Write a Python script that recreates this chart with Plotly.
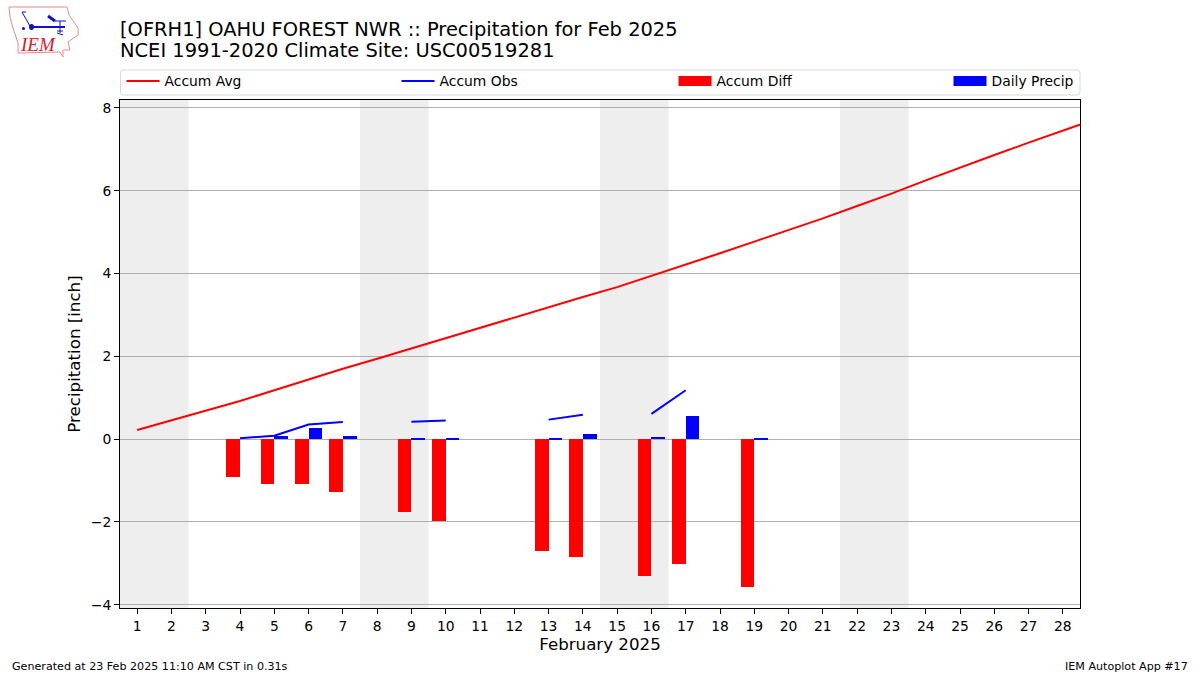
import plotly.graph_objects as go

DAYS = list(range(1, 30))
ACCUM_AVG = [0.22, 0.45, 0.68, 0.92, 1.18, 1.44, 1.70, 1.94, 2.19, 2.44,
             2.69, 2.94, 3.19, 3.43, 3.67, 3.94, 4.22, 4.49, 4.77, 5.05,
             5.33, 5.63, 5.93, 6.25, 6.56, 6.86, 7.16, 7.45, 7.74]

# obs line is broken on the days with missing data
OBS_DAYS = [4, 5, 6, 7, 8, 9, 10, 11, 13, 14, 15, 16, 17]
ACCUM_OBS = [0.02, 0.08, 0.35, 0.41, None, 0.42, 0.45, None, 0.47, 0.59, None, 0.61, 1.18]

DIFF_DAYS = [4, 5, 6, 7, 9, 10, 13, 14, 16, 17, 19]
ACCUM_DIFF = [-0.92, -1.09, -1.09, -1.28, -1.76, -1.98, -2.71, -2.85, -3.31, -3.02, -3.58]

PRECIP_DAYS = [5, 6, 7, 9, 10, 13, 14, 16, 17, 19]
DAILY_PRECIP = [0.08, 0.27, 0.08, 0.02, 0.02, 0.02, 0.12, 0.05, 0.56, 0.02]

WEEKEND_SPANS = [(0.5, 2.5), (7.5, 9.5), (14.5, 16.5), (21.5, 23.5)]
X_TICKS = list(range(1, 29))
Y_TICKS = [-4, -2, 0, 2, 4, 6, 8]
Y_LABELS = ["\u22124", "\u22122", "0", "2", "4", "6", "8"]

FONT = "DejaVu Sans"
W, H = 1200, 675
LEFT, RIGHT, TOP, BOTTOM = 120, 1080, 100, 608


# pixel position on the page to paper coords (paper is relative to the plot area)
def px(x):
    return (x - LEFT) / (RIGHT - LEFT)


def py(y):
    return 1 - (y - TOP) / (BOTTOM - TOP)


def paper_path(points, close=True):
    path = "M" + " L".join(f"{px(x):.4f},{py(y):.4f}" for x, y in points)
    return path + " Z" if close else path


fig = go.Figure()

fig.add_trace(go.Scatter(x=DAYS, y=ACCUM_AVG, mode="lines", name="Accum Avg", legend="legend",
                         line=dict(color="#ff0000", width=2)))
fig.add_trace(go.Scatter(x=OBS_DAYS, y=ACCUM_OBS, mode="lines", name="Accum Obs", legend="legend2",
                         line=dict(color="#0000ff", width=2), connectgaps=False))
fig.add_trace(go.Bar(x=DIFF_DAYS, y=ACCUM_DIFF, name="Accum Diff", width=0.4, offset=-0.4,
                     marker=dict(color="#ff0000", line=dict(width=0)), showlegend=False))
fig.add_trace(go.Bar(x=PRECIP_DAYS, y=DAILY_PRECIP, name="Daily Precip", width=0.4, offset=0,
                     marker=dict(color="#0000ff", line=dict(width=0)), showlegend=False))
# wide legend swatches like the original, bar swatches in plotly are small squares
fig.add_trace(go.Scatter(x=[None], y=[None], mode="lines", name="Accum Diff", legend="legend3",
                         line=dict(color="#ff0000", width=10)))
fig.add_trace(go.Scatter(x=[None], y=[None], mode="lines", name="Daily Precip", legend="legend4",
                         line=dict(color="#0000ff", width=10)))

for x0, x1 in WEEKEND_SPANS:
    fig.add_shape(type="rect", xref="x", yref="paper", x0=x0, x1=x1, y0=0, y1=1,
                  fillcolor="#eeeeee", line_width=0, layer="below")

# legend frame with rounded corners
r = 3
frame = (f"M{px(120.5 + r):.4f},{py(70):.4f} L{px(1080 - r):.4f},{py(70):.4f} "
         f"Q{px(1080):.4f},{py(70):.4f} {px(1080):.4f},{py(70 + r):.4f} "
         f"L{px(1080):.4f},{py(95 - r):.4f} Q{px(1080):.4f},{py(95):.4f} {px(1080 - r):.4f},{py(95):.4f} "
         f"L{px(120.5 + r):.4f},{py(95):.4f} Q{px(120.5):.4f},{py(95):.4f} {px(120.5):.4f},{py(95 - r):.4f} "
         f"L{px(120.5):.4f},{py(70 + r):.4f} Q{px(120.5):.4f},{py(70):.4f} {px(120.5 + r):.4f},{py(70):.4f} Z")
fig.add_shape(type="path", xref="paper", yref="paper", path=frame,
              line=dict(color="#d8d8d8", width=1), layer="below")

# logo
OUTLINE = [(9, 7), (67, 7), (69, 15), (78, 28), (78, 35), (68, 42), (70, 50), (63, 50),
           (63, 57), (60, 52), (18, 53), (18, 43), (13, 28), (10, 17)]
fig.add_shape(type="path", xref="paper", yref="paper", path=paper_path(OUTLINE),
              line=dict(color="#e58a8a", width=1), layer="above")
LOGO_STROKES = [
    ([(30, 27), (65, 27)], 2),
    ([(55, 21), (66, 21)], 1),
    ([(60, 21), (60, 33)], 1),
    ([(48, 16), (55, 21)], 3),
    ([(22, 12), (30, 26)], 1),
    ([(22, 12), (26, 12)], 1),
    ([(57, 31), (63, 31)], 1),
    ([(57, 33), (63, 35)], 1),
]
for pts, lw in LOGO_STROKES:
    fig.add_shape(type="path", xref="paper", yref="paper", path=paper_path(pts, close=False),
                  line=dict(color="#1010d0", width=lw))
fig.add_shape(type="circle", xref="paper", yref="paper", x0=px(29), x1=px(34), y0=py(30), y1=py(24),
              fillcolor="#1010d0", line_width=0)
fig.add_shape(type="circle", xref="paper", yref="paper", x0=px(22), x1=px(25), y0=py(30), y1=py(27),
              fillcolor="#1010d0", line_width=0)

annos = [
    dict(text="NCEI 1991-2020 Climate Site: USC00519281", x=px(120), y=py(50.5),
         xanchor="left", yanchor="middle", font=dict(family=FONT, size=19.44, color="black")),
    dict(text="<i>IEM</i>", x=px(20), y=py(45), xanchor="left", yanchor="middle",
         font=dict(family="Liberation Serif", size=19, color="#d62030")),
    dict(text="Generated at 23 Feb 2025 11:10 AM CST in 0.31s", x=px(12), y=py(666),
         xanchor="left", yanchor="middle", font=dict(family=FONT, size=11.11, color="black")),
    dict(text="IEM Autoplot App #17", x=px(1188), y=py(666),
         xanchor="right", yanchor="middle", font=dict(family=FONT, size=11.11, color="black")),
]
for a in annos:
    fig.add_annotation(xref="paper", yref="paper", showarrow=False, borderpad=0, borderwidth=0, **a)


# one legend per entry, a single horizontal legend cannot spread over the full width
def legend_at(x):
    return dict(orientation="h", x=px(x), xanchor="left", y=py(81.5), yanchor="middle",
                itemwidth=33, bgcolor="rgba(0,0,0,0)", font=dict(family=FONT, size=13.89),
                itemclick=False)


fig.update_layout(
    width=W, height=H,
    margin=dict(l=LEFT, r=W - RIGHT, t=TOP, b=H - BOTTOM, pad=0),
    paper_bgcolor="white", plot_bgcolor="white",
    font=dict(family=FONT, size=13.89, color="black"),
    barmode="overlay", bargap=0,
    title=dict(text="[OFRH1] OAHU FOREST NWR :: Precipitation for Feb 2025",
               font=dict(family=FONT, size=19.44, color="black"),
               x=120 / W, xanchor="left", xref="container",
               y=1 - 29 / H, yanchor="middle", yref="container"),
    legend=legend_at(121.5),
    legend2=legend_at(396.5),
    legend3=legend_at(673.5),
    legend4=legend_at(948.5),
    xaxis=dict(range=[0.5, 28.5], tickmode="array", tickvals=X_TICKS, ticks="outside", ticklen=5,
               tickwidth=1, tickcolor="black", showgrid=False, zeroline=False,
               showline=True, linecolor="black", linewidth=1, mirror=True,
               title=dict(text="February 2025", font=dict(family=FONT, size=16.67), standoff=5),
               tickfont=dict(family=FONT, size=13.89)),
    yaxis=dict(range=[-4.08, 8.19], tickmode="array", tickvals=Y_TICKS, ticktext=Y_LABELS,
               ticks="outside", ticklen=5, tickwidth=1, tickcolor="black",
               showgrid=True, gridcolor="#b0b0b0", gridwidth=1, zeroline=False,
               showline=True, linecolor="black", linewidth=1, mirror=True,
               title=dict(text="Precipitation [inch]", font=dict(family=FONT, size=16.67), standoff=5),
               tickfont=dict(family=FONT, size=13.89)),
)

# default page has an 8px body margin that would shift the figure
fig.write_html("out.html", config={"displayModeBar": False},
               post_script="document.body.style.margin='0';")
